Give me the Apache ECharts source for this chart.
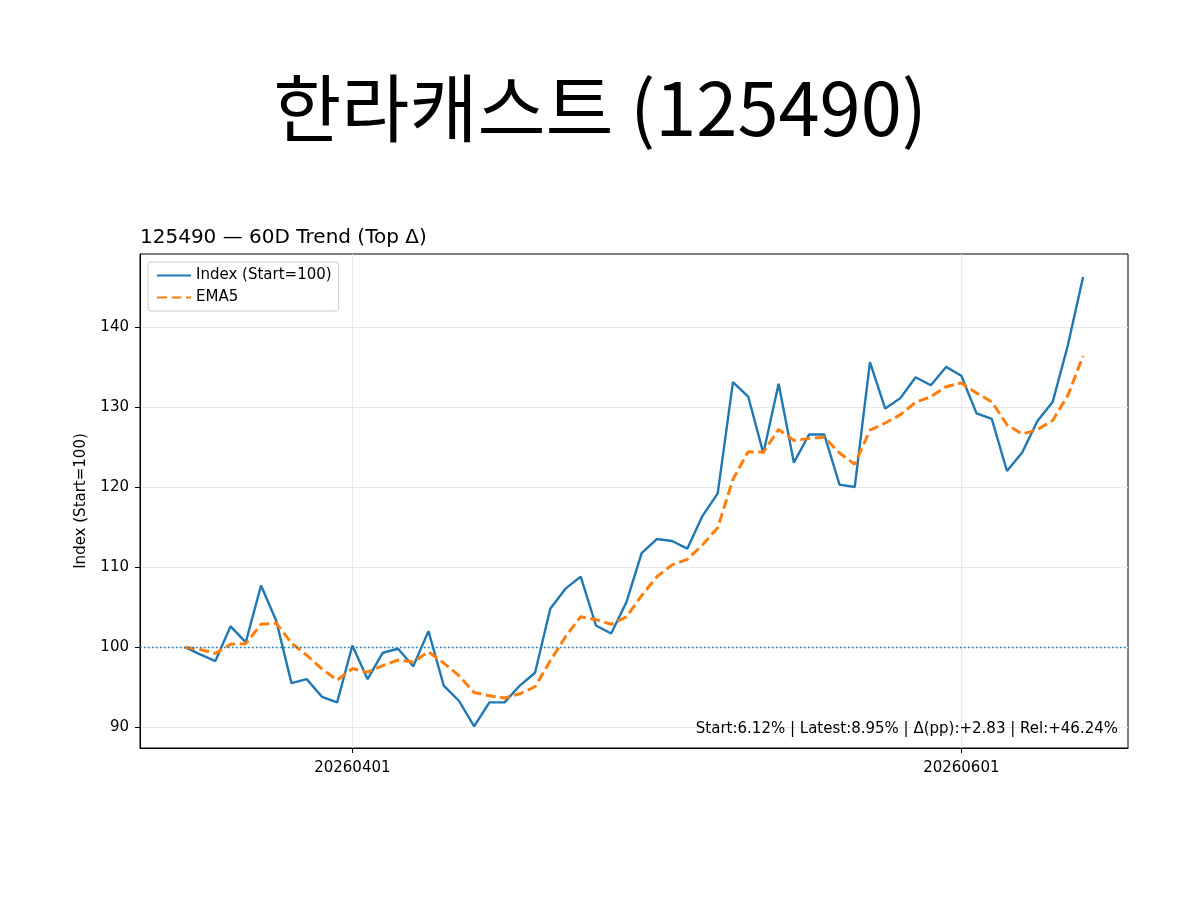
<!DOCTYPE html>
<html lang="ko" style="height: 100%">
<head>
  <meta charset="utf-8">
</head>
<body style="height: 100%; margin: 0; background: #fff">
  <div id="container" style="width: 1200px; height: 900px"></div>

  <script type="text/javascript" src="https://cdn.jsdelivr.net/npm/echarts@6.0.0/dist/echarts.min.js"></script>

  <script type="text/javascript">
var dom = document.getElementById('container');
var myChart = echarts.init(dom, null, { renderer: 'canvas' });

// trading days (60)
const dates = [
  '20260317', '20260318', '20260319', '20260320', '20260323', '20260324', '20260325', '20260326',
  '20260327', '20260330', '20260331', '20260401', '20260402', '20260403', '20260406', '20260407',
  '20260408', '20260409', '20260410', '20260413', '20260414', '20260415', '20260416', '20260417',
  '20260420', '20260421', '20260422', '20260423', '20260424', '20260427', '20260428', '20260429',
  '20260430', '20260504', '20260506', '20260507', '20260508', '20260511', '20260512', '20260513',
  '20260514', '20260515', '20260518', '20260519', '20260520', '20260521', '20260522', '20260526',
  '20260527', '20260528', '20260529', '20260601', '20260602', '20260604', '20260605', '20260608',
  '20260609', '20260610', '20260611', '20260612'
];
const tickDates = ['20260401', '20260601'];
const yTicks = [90, 100, 110, 120, 130, 140];

const indexValues = [
  100, 99.1, 98.25, 102.6, 100.6, 107.7, 103.3, 95.5, 96.0, 93.8,
  93.1, 100.2, 96.0, 99.3, 99.8, 97.6, 102.0, 95.2, 93.3, 90.1,
  93.1, 93.1, 95.2, 96.8, 104.8, 107.3, 108.8, 102.7, 101.7, 105.6,
  111.75, 113.5, 113.25, 112.3, 116.4, 119.2, 133.1, 131.3, 124.2, 132.9,
  123.05, 126.55, 126.55, 120.3, 120.0, 135.6, 129.8, 131.1, 133.7, 132.7,
  135.0, 133.9, 129.2, 128.5, 122.0, 124.3, 128.25, 130.6, 137.7, 146.24
];
const ema5Values = [
  100, 99.7, 99.22, 100.35, 100.43, 102.85, 103.0, 100.5, 99.0, 97.27,
  95.88, 97.32, 96.88, 97.69, 98.39, 98.13, 99.42, 98.01, 96.44, 94.33,
  93.92, 93.65, 94.17, 95.05, 98.3, 101.3, 103.8, 103.43, 102.85, 103.77,
  106.43, 108.79, 110.28, 110.95, 112.77, 114.91, 120.97, 124.41, 124.34, 127.19,
  125.81, 126.06, 126.22, 124.25, 122.83, 127.09, 127.99, 129.03, 130.59, 131.29,
  132.53, 132.99, 131.73, 130.65, 127.77, 126.61, 127.16, 128.31, 131.44, 136.37
];
const baseLine = 100;
const noteText = 'Start:6.12% | Latest:8.95% | Δ(pp):+2.83 | Rel:+46.24%';

const font = 'DejaVu Sans';
const xTickPos = tickDates.map(function (d) { return dates.indexOf(d); });
const n = dates.length;
const pad = (n - 1) * 0.05;

var option = {
  backgroundColor: '#fff',
  animation: false,
  title: [
    {
      text: '한라캐스트 (125490)',
      left: 'center',
      top: 71,
      padding: 0,
      textStyle: { fontFamily: 'Noto Sans CJK KR', fontSize: 74, fontWeight: 'normal', color: '#000' }
    },
    {
      text: '125490 — 60D Trend (Top Δ)',
      left: 140,
      top: 228,
      padding: 0,
      textStyle: { fontFamily: font, fontSize: 20, fontWeight: 'normal', color: '#000' }
    }
  ],
  legend: {
    orient: 'vertical',
    left: 148,
    top: 262,
    padding: [6, 7, 6, 8],
    itemGap: 7,
    itemWidth: 34,
    itemHeight: 14,
    borderColor: '#cccccc',
    borderWidth: 1,
    borderRadius: 3,
    backgroundColor: 'rgba(255,255,255,0.8)',
    itemStyle: { opacity: 0 },
    textStyle: { fontFamily: font, fontSize: 15, color: '#000' },
    data: ['Index (Start=100)', 'EMA5']
  },
  grid: {
    left: 140,
    right: 72,
    top: 254,
    bottom: 152,
    show: true,
    borderColor: '#000',
    borderWidth: 1,
    containLabel: false
  },
  xAxis: {
    type: 'value',
    min: -pad,
    max: n - 1 + pad,
    axisLine: { show: true, onZero: false, lineStyle: { color: '#000', width: 1 } },
    axisTick: { show: true, length: 5, customValues: xTickPos, lineStyle: { color: '#000' } },
    axisLabel: {
      customValues: xTickPos,
      margin: 13,
      fontFamily: font,
      fontSize: 15,
      color: '#000',
      formatter: function (v) { return dates[Math.round(v)]; }
    },
    splitLine: { show: true, lineStyle: { color: '#e8e8e8', width: 1 } }
  },
  yAxis: {
    type: 'value',
    min: 87.4,
    max: 149.1,
    name: 'Index (Start=100)',
    nameLocation: 'middle',
    nameGap: 51,
    nameTextStyle: { fontFamily: font, fontSize: 15, color: '#000' },
    axisLine: { show: true, onZero: false, lineStyle: { color: '#000', width: 1 } },
    axisTick: { show: true, length: 5, customValues: yTicks, lineStyle: { color: '#000' } },
    axisLabel: { customValues: yTicks, margin: 11, fontFamily: font, fontSize: 15, color: '#000' },
    splitLine: { show: true, lineStyle: { color: '#e8e8e8', width: 1 } }
  },
  graphic: [
    {
      type: 'text',
      right: 82,
      top: 722,
      z: 100,
      style: { text: noteText, fontFamily: font, fontSize: 15, fill: '#000' }
    }
  ],
  series: [
    {
      name: 'Index (Start=100)',
      type: 'line',
      symbol: 'none',
      data: indexValues.map(function (v, i) { return [i, v]; }),
      lineStyle: { color: '#1f77b4', width: 2.4 },
      itemStyle: { color: '#1f77b4' },
      z: 3,
      markLine: {
        silent: true,
        symbol: 'none',
        label: { show: false },
        lineStyle: { color: '#1f77b4', width: 1.4, type: [1.5, 2.5], opacity: 1 },
        data: [{ yAxis: baseLine }]
      }
    },
    {
      name: 'EMA5',
      type: 'line',
      symbol: 'none',
      data: ema5Values.map(function (v, i) { return [i, v]; }),
      lineStyle: { color: '#ff7f0e', width: 3, type: [10, 4.5] },
      itemStyle: { color: '#ff7f0e' },
      z: 4
    }
  ]
};

myChart.setOption(option);
window.addEventListener('resize', myChart.resize);
  </script>
</body>
</html>
